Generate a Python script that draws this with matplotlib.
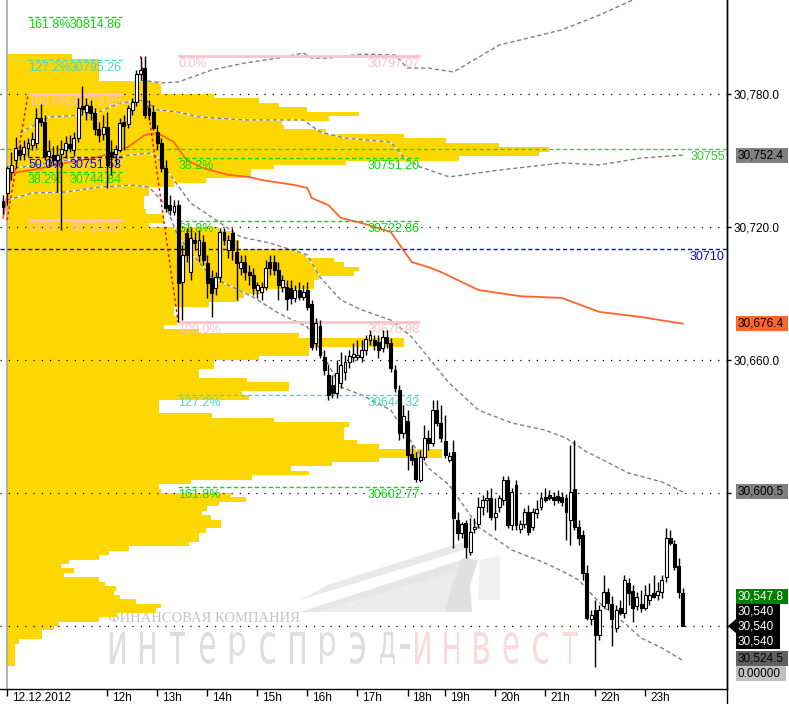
import numpy as np
import matplotlib
matplotlib.use("Agg")
import matplotlib.pyplot as plt
from matplotlib.patches import Rectangle, Polygon, PathPatch
from matplotlib.textpath import TextPath
from matplotlib.font_manager import FontProperties
from matplotlib.transforms import Affine2D, blended_transform_factory

# ---- candles (5 min bars, 12.12.2012) ----
opens = [
    30731.7, 30735.3, 30744.8, 30750.2, 30754.7, 30752.9, 30755.6, 30757.0, 30757.9, 30769.2,
    30767.4, 30752.0, 30752.5, 30750.2, 30752.9, 30754.7, 30757.4, 30754.7, 30760.1, 30774.6,
    30771.9, 30774.6, 30771.4, 30764.2, 30762.0, 30765.1, 30753.8, 30752.9, 30754.7, 30767.4,
    30766.5, 30772.8, 30776.4, 30789.0, 30791.7, 30773.7, 30771.9, 30762.9, 30757.9, 30746.6,
    30729.9, 30726.8, 30729.9, 30695.2, 30717.3, 30699.7, 30714.2, 30707.4, 30713.3, 30703.8,
    30697.0, 30692.5, 30697.4, 30717.7, 30709.6, 30717.3, 30708.7, 30701.5, 30704.2, 30699.7,
    30698.3, 30691.6, 30690.7, 30692.9, 30704.2, 30704.2, 30700.6, 30692.9, 30692.9, 30692.5,
    30688.0, 30691.6, 30688.4, 30691.6, 30685.3, 30667.7, 30675.3, 30661.4, 30653.2, 30648.7,
    30645.1, 30649.6, 30654.6, 30659.1, 30661.4, 30661.4, 30661.4, 30664.5, 30669.0, 30669.0,
    30668.1, 30665.4, 30670.4, 30667.7, 30655.5, 30646.5, 30627.1, 30632.5, 30617.6, 30615.8,
    30605.9, 30616.2, 30624.8, 30622.6, 30637.4, 30631.6, 30623.5, 30614.9, 30618.5, 30587.8,
    30582.0, 30586.5, 30573.4, 30583.8, 30586.0, 30593.7, 30596.9, 30597.7, 30589.2, 30593.7,
    30596.9, 30605.9, 30585.6, 30603.6, 30583.8, 30586.0, 30591.4, 30584.7, 30591.0, 30593.7,
    30598.2, 30599.1, 30598.2, 30598.6, 30598.2, 30597.7, 30587.8, 30601.8, 30584.7, 30581.1,
    30563.9, 30543.2, 30547.2, 30535.9, 30549.0, 30555.4, 30549.9, 30539.1, 30548.1, 30545.9,
    30559.4, 30555.8, 30549.0, 30549.9, 30548.1, 30551.8, 30554.9, 30554.0, 30555.4, 30562.1,
    30579.7, 30577.0, 30567.1, 30554.9,
]
highs = [
    30734.4, 30747.5, 30753.8, 30760.6, 30757.4, 30759.2, 30760.1, 30762.9, 30773.7, 30775.5,
    30770.5, 30759.2, 30756.5, 30757.0, 30759.2, 30761.1, 30761.5, 30762.9, 30778.2, 30783.6,
    30778.2, 30777.3, 30773.7, 30767.4, 30770.5, 30771.9, 30759.2, 30757.0, 30769.2, 30770.5,
    30775.0, 30778.2, 30790.8, 30796.7, 30797.1, 30777.3, 30775.0, 30766.0, 30760.1, 30750.2,
    30734.4, 30732.2, 30732.2, 30711.9, 30719.5, 30719.5, 30717.7, 30718.6, 30716.4, 30707.4,
    30700.6, 30699.7, 30719.5, 30719.5, 30716.4, 30719.5, 30714.2, 30707.4, 30707.4, 30702.9,
    30701.5, 30695.2, 30695.2, 30705.1, 30707.4, 30707.4, 30704.2, 30698.3, 30696.1, 30696.1,
    30693.8, 30695.2, 30693.8, 30695.2, 30687.1, 30679.0, 30678.0, 30664.5, 30657.8, 30653.2,
    30660.0, 30663.6, 30662.3, 30664.5, 30667.7, 30669.0, 30669.0, 30671.3, 30673.5, 30671.3,
    30671.3, 30673.5, 30673.5, 30669.9, 30657.8, 30648.7, 30639.7, 30637.4, 30621.7, 30618.5,
    30619.4, 30630.7, 30628.4, 30642.0, 30642.0, 30639.7, 30635.2, 30618.5, 30623.9, 30591.4,
    30587.0, 30587.8, 30588.7, 30588.7, 30598.2, 30599.1, 30601.4, 30602.3, 30597.7, 30599.1,
    30607.7, 30607.7, 30602.3, 30605.9, 30587.8, 30593.2, 30594.6, 30593.2, 30596.9, 30600.5,
    30602.3, 30601.4, 30600.5, 30601.4, 30600.5, 30599.6, 30621.7, 30623.9, 30587.8, 30583.3,
    30567.5, 30547.2, 30551.8, 30549.5, 30563.0, 30557.2, 30553.5, 30549.5, 30551.8, 30563.0,
    30561.6, 30558.5, 30555.4, 30556.3, 30558.5, 30559.4, 30563.0, 30559.9, 30563.0, 30584.2,
    30583.3, 30578.8, 30570.7, 30557.2,
]
lows = [
    30725.9, 30729.9, 30741.2, 30746.6, 30750.2, 30750.2, 30752.0, 30754.7, 30755.6, 30765.6,
    30750.2, 30747.5, 30748.0, 30735.8, 30718.6, 30751.1, 30753.8, 30752.0, 30758.3, 30770.5,
    30768.3, 30768.3, 30761.5, 30758.3, 30759.2, 30737.6, 30743.5, 30748.0, 30753.8, 30754.7,
    30764.7, 30770.5, 30774.6, 30786.3, 30769.2, 30768.3, 30763.8, 30754.7, 30744.8, 30726.8,
    30725.4, 30725.4, 30677.0, 30678.0, 30704.2, 30696.1, 30709.6, 30704.2, 30702.9, 30688.0,
    30679.4, 30689.3, 30695.2, 30711.9, 30706.0, 30705.1, 30687.1, 30698.3, 30696.1, 30693.8,
    30689.3, 30688.0, 30687.1, 30691.6, 30698.3, 30698.3, 30687.1, 30690.7, 30682.6, 30685.3,
    30686.2, 30687.1, 30687.1, 30682.6, 30664.5, 30664.5, 30660.9, 30653.2, 30642.0, 30642.9,
    30642.9, 30647.4, 30651.0, 30656.4, 30659.1, 30660.0, 30659.1, 30662.3, 30666.8, 30664.5,
    30660.9, 30663.6, 30665.4, 30654.6, 30645.6, 30623.9, 30624.8, 30610.4, 30612.6, 30605.0,
    30605.0, 30614.9, 30619.4, 30621.2, 30630.2, 30623.0, 30615.8, 30614.0, 30575.2, 30578.8,
    30579.7, 30570.7, 30572.0, 30582.0, 30584.3, 30590.1, 30591.4, 30587.8, 30583.3, 30591.4,
    30594.6, 30584.3, 30583.3, 30583.3, 30582.0, 30584.3, 30581.1, 30583.3, 30588.7, 30592.3,
    30595.9, 30596.9, 30594.6, 30595.5, 30594.1, 30578.8, 30576.5, 30583.3, 30576.5, 30560.8,
    30542.7, 30540.5, 30521.5, 30533.7, 30548.1, 30547.2, 30531.0, 30537.3, 30545.0, 30543.6,
    30549.5, 30541.8, 30547.2, 30546.3, 30547.2, 30549.5, 30552.6, 30551.8, 30552.6, 30559.9,
    30576.5, 30565.3, 30552.6, 30540.0,
]
closes = [
    30729.0, 30746.6, 30748.0, 30755.6, 30752.5, 30756.1, 30757.9, 30759.7, 30769.2, 30767.4,
    30752.0, 30754.3, 30750.2, 30752.5, 30755.2, 30757.9, 30755.6, 30760.1, 30773.7, 30773.2,
    30775.0, 30771.4, 30764.2, 30761.5, 30765.1, 30748.0, 30751.6, 30755.2, 30766.9, 30765.6,
    30773.7, 30776.4, 30789.0, 30790.8, 30770.5, 30770.5, 30764.7, 30757.9, 30746.6, 30728.6,
    30727.7, 30729.5, 30694.7, 30707.4, 30707.4, 30715.0, 30712.8, 30714.2, 30705.1, 30694.7,
    30690.2, 30697.4, 30717.7, 30714.2, 30714.2, 30709.6, 30703.8, 30704.2, 30699.7, 30698.3,
    30692.5, 30693.8, 30692.9, 30701.5, 30701.5, 30700.6, 30693.8, 30696.1, 30687.5, 30688.0,
    30691.6, 30688.4, 30690.7, 30683.9, 30665.9, 30676.7, 30662.3, 30655.5, 30644.2, 30645.1,
    30654.1, 30657.8, 30659.1, 30661.8, 30662.7, 30662.3, 30664.5, 30669.5, 30671.3, 30666.8,
    30664.5, 30670.4, 30667.7, 30656.4, 30647.4, 30627.1, 30634.7, 30617.1, 30614.9, 30606.3,
    30616.2, 30624.8, 30622.6, 30637.4, 30631.6, 30624.8, 30617.1, 30616.7, 30588.7, 30582.0,
    30586.0, 30575.6, 30582.4, 30584.7, 30593.7, 30596.9, 30597.7, 30589.2, 30591.0, 30597.7,
    30605.9, 30585.6, 30600.5, 30585.6, 30586.0, 30591.4, 30582.4, 30591.4, 30592.8, 30597.7,
    30596.9, 30597.7, 30596.9, 30596.9, 30595.9, 30591.4, 30600.5, 30584.7, 30579.7, 30563.9,
    30543.6, 30545.0, 30535.9, 30547.2, 30555.4, 30550.4, 30543.2, 30547.2, 30545.9, 30560.8,
    30554.9, 30548.1, 30553.1, 30548.1, 30554.0, 30554.0, 30553.1, 30555.8, 30560.8, 30579.7,
    30577.4, 30566.6, 30555.4, 30540.0,
]

# hour ticks (bar index of first bar of the hour)
tick_bars = [1, 25, 37, 49, 61, 73, 85, 97, 106, 118, 130, 142, 154]
tick_labels = ["12.12.2012", "12h", "13h", "14h", "15h", "16h", "17h", "18h",
               "19h", "20h", "21h", "22h", "23h"]
price_ticks = [30540, 30600, 30660, 30720, 30780]
hidden_ticks = [30540, 30600]   # labels covered by the price boxes

# ---- volume profile of the day (2-point bins, top to bottom) ----
profile_top = 30797
profile_step = 2
profile_vol = [
    65, 92, 92, 92, 92, 92, 154, 154, 154, 207,
    252, 272, 300, 352, 322, 275, 277, 319, 397, 439,
    492, 542, 532, 452, 339, 267, 244, 244, 199, 167,
    142, 142, 137, 137, 137, 139, 157, 157, 142, 212,
    224, 227, 232, 232, 292, 299, 327, 337, 352, 347,
    312, 307, 307, 257, 237, 232, 202, 167, 167, 170,
    170, 157, 192, 292, 397, 397, 302, 302, 252, 207,
    207, 192, 192, 240, 282, 282, 235, 242, 152, 152,
    152, 205, 267, 342, 337, 337, 337, 350, 372, 435,
    435, 372, 325, 284, 302, 245, 184, 152, 154, 224,
    239, 212, 200, 195, 204, 214, 214, 199, 192, 192,
    182, 122, 102, 92, 62, 54, 67, 57, 92, 98,
    109, 107, 113, 129, 154, 149, 110, 92, 52, 47,
    35, 35, 12, 8, 8, 8, 8, 8,
]

# ---- indicator lines (read at bar knots) ----
ma_bars = [0, 2, 7, 15, 23, 30, 34, 37, 41, 44, 48, 54, 59, 62, 70, 73, 74, 78, 81, 86,
           93, 96, 98, 102, 105, 114, 124, 134, 143, 153, 163]
ma_vals = [30724.1, 30744.4, 30745.7, 30748.9, 30751.6, 30756.1, 30761.5, 30762.4, 30758.3,
           30750.2, 30746.6, 30743.5, 30742.6, 30741.2, 30738.9, 30737.6, 30733.1, 30729.9,
           30724.1, 30721.8, 30717.7, 30709.6, 30704.2, 30701.9, 30699.7, 30691.6, 30688.8,
           30688.0, 30681.7, 30679.4, 30676.4]

band_a_bars = [33, 38, 42, 50, 58, 66, 72, 74, 78, 86, 94, 97, 102, 108, 119, 134, 143, 151, 158, 163]
band_a_vals = [30786.3, 30785.0, 30785.4, 30790.8, 30794.0, 30796.2, 30798.5, 30796.2, 30796.2,
               30798.0, 30797.6, 30791.7, 30791.7, 30789.9, 30802.1, 30808.9, 30815.6, 30822.4,
               30827.8, 30832.3]
band_b_bars = [4, 11, 19, 23, 28, 34, 37, 42, 47, 58, 72, 76, 82, 93, 96, 100, 107, 119, 134,
               143, 153, 163]
band_b_vals = [30762.4, 30769.6, 30770.5, 30771.9, 30775.9, 30777.3, 30772.8, 30771.9, 30769.6,
               30768.3, 30768.3, 30762.9, 30760.1, 30758.3, 30751.6, 30747.1, 30742.6, 30745.7,
               30748.9, 30748.0, 30751.1, 30752.4]
band_c_bars = [3, 11, 19, 27, 35, 37, 41, 45, 50, 57, 64, 73, 76, 81, 86, 93, 98, 105, 107,
               114, 122, 130, 135, 140, 143, 150, 158, 163]
band_c_vals = [30746.6, 30748.9, 30751.1, 30751.6, 30753.4, 30751.6, 30741.2, 30730.8, 30724.5,
               30715.5, 30712.8, 30707.4, 30697.4, 30687.1, 30682.6, 30678.0, 30670.4, 30654.1,
               30649.6, 30637.4, 30631.6, 30628.4, 30624.8, 30618.5, 30615.8, 30609.0, 30605.0,
               30600.5]
band_d_bars = [1, 7, 15, 23, 31, 35, 39, 42, 50, 60, 66, 73, 81, 86, 93, 102, 107, 114, 122,
               130, 135, 138, 144, 149, 153, 158, 163]
band_d_vals = [30732.2, 30735.3, 30735.8, 30738.0, 30738.9, 30738.0, 30729.9, 30715.5, 30697.4,
               30688.4, 30681.2, 30674.9, 30647.8, 30644.2, 30637.4, 30611.3, 30603.6, 30584.7,
               30574.3, 30568.4, 30563.9, 30560.8, 30548.6, 30541.4, 30534.6, 30530.1, 30524.5]

# ---- fibonacci sets ----
fib_a_span = (6, 28.5)
fib_a_pct = ["161.8%", "127.2%", "100.0%", "50.0%", "38.2%", "0.0%"]
fib_a_px = [30814.86, 30795.26, 30779.85, 30751.53, 30744.84, 30723.20]
fib_b_span = (42, 100)
fib_b_pct = ["0.0%", "38.2%", "61.8%", "100.0%", "127.2%", "161.8%"]
fib_b_px = [30797.07, 30751.20, 30722.86, 30676.98, 30644.32, 30602.77]
zigzag_1 = ([1, 6], [30723.20, 30779.85])
zigzag_2 = ([33, 42], [30797.07, 30676.98])

level_green = 30755
level_blue = 30710
last_price = 30540.0

GREEN = "#00DD00"
CYAN = "#40D8D0"
PINK = "#FFC0CB"
BLUE = "#0000FF"
fib_colors = {"161.8%": GREEN, "127.2%": CYAN, "100.0%": PINK, "61.8%": GREEN,
              "50.0%": BLUE, "38.2%": GREEN, "0.0%": PINK}

plt.rcParams["font.family"] = ["Liberation Sans", "DejaVu Sans"]

W, H = 789, 704
AX_W, AX_H = 727, 689
fig = plt.figure(figsize=(W / 100, H / 100), dpi=100)
ax = fig.add_axes([0, (H - AX_H) / H, AX_W / W, AX_H / H])
ax.set_xlim(-0.72, 173.6)
ax.set_ylim(30511.6, 30822.4)
ppx = (30822.4 - 30511.6) / AX_H  # price per pixel

for s in ["top", "left"]:
    ax.spines[s].set_visible(False)
ax.spines["bottom"].set_linewidth(1.0)
ax.spines["right"].set_linewidth(1.0)
fig.add_artist(plt.Line2D([AX_W / W, AX_W / W], [0, 1], color="black", lw=1.0))

# price axis on the right
ax.yaxis.tick_right()
ax.set_yticks(price_ticks)
ax.set_yticklabels(["" if p in hidden_ticks else "{:,.1f}".format(p) for p in price_ticks],
                   fontsize=8.5)
ax.tick_params(axis="y", direction="out", length=3, pad=1.5, width=1)
ax.set_xticks(tick_bars)
ax.set_xticklabels([])
ax.tick_params(axis="x", direction="out", length=5, width=1)
for b, lab in zip(tick_bars, tick_labels):
    ax.annotate(lab, xy=(b, 0), xycoords=("data", "axes fraction"), xytext=(3.5, -2),
                textcoords="offset points", ha="left", va="top", fontsize=8.5)

# dotted grid
for p in price_ticks:
    ax.axhline(p, color="black", lw=0.9, ls=(0, (1.0, 5.6)), zorder=1.5)

# day separator
ax.axvline(tick_bars[0], color="#A8A8A8", lw=1.2, zorder=1.4)

# volume profile
prof_price = profile_top - profile_step * np.arange(len(profile_vol))
ax.barh(prof_price, np.array(profile_vol) / 4.17, height=profile_step, left=tick_bars[0],
        color="#FFD700", lw=0, zorder=1)


def px2ax(x, y):
    return (x / AX_W, 1 - y / AX_H)


# watermark logo (light grey wing)
logo_parts = [
    ([(300, 612), (318, 612), (470, 568), (470, 557)], "#E6E6E6"),
    ([(300, 600), (470, 548), (470, 540), (330, 584)], "#E9E9E9"),
    ([(318, 612), (470, 612), (470, 568)], "#EBEBEB"),
    ([(445, 612), (472, 612), (470, 585), (478, 560), (462, 558), (452, 585)], "#E0E0E0"),
    ([(478, 600), (500, 600), (500, 556), (480, 560)], "#EFEFEF"),
]
for pts, col in logo_parts:
    ax.add_patch(Polygon([px2ax(*p) for p in pts], closed=True, transform=ax.transAxes,
                         fc=col, ec="none", zorder=0.6))
ax.text(*px2ax(108, 622), "ФИНАНСОВАЯ КОМПАНИЯ", transform=ax.transAxes,
        family=["Liberation Serif", "DejaVu Serif"], fontsize=10.5, color="#C4C4C4",
        ha="left", va="baseline", zorder=0.7)

wm_font = FontProperties(family="DejaVu Sans")


def glyph(ch, x_left, y_top, w, h, color):
    tp = TextPath((0, 0), ch, size=1, prop=wm_font)
    e = tp.get_extents()
    tr = (Affine2D().translate(-e.x0, -e.y0).scale(w / e.width / AX_W, h / e.height / AX_H)
          .translate(x_left / AX_W, 1 - (y_top + h) / AX_H) + ax.transAxes)
    ax.add_patch(PathPatch(tp, transform=tr, fc=color, ec="none", zorder=0.7))


for k, ch in enumerate("интерспрэд"):
    glyph(ch, 110 + 30.0 * k, 632, 15, 32, "#DEDEDE")
ax.add_patch(Rectangle(px2ax(400, 649), 10 / AX_W, 5 / AX_H, transform=ax.transAxes,
                       fc="#DEDEDE", ec="none", zorder=0.7))
for k, ch in enumerate("инвест"):
    glyph(ch, 415 + 29.5 * k, 632, 15, 32, "#FADADA")

# bands
for bx, by in [(band_a_bars, band_a_vals), (band_b_bars, band_b_vals),
               (band_c_bars, band_c_vals), (band_d_bars, band_d_vals)]:
    ax.plot(bx, by, color="white", lw=1.0, zorder=2)
    ax.plot(bx, by, color="#808080", lw=1.0, ls=(0, (3, 2)), zorder=2.1)

# moving average
ax.plot(ma_bars, ma_vals, color="#FF6428", lw=1.3, zorder=2.5)

# horizontal levels
ax.axhline(level_green, color="#33CC33", lw=1.0, ls=(0, (3, 2)), zorder=2.6)
ax.axhline(level_blue, color=BLUE, lw=1.0, ls=(0, (3, 2)), zorder=2.6)
for lvl, col in [(level_green, "#33CC33"), (level_blue, BLUE)]:
    ax.annotate(str(lvl), xy=(1, lvl), xycoords=("axes fraction", "data"), xytext=(-1.5, -1),
                textcoords="offset points", ha="right", va="top", fontsize=9, color=col,
                zorder=3)


# fibonacci
def draw_fib(span, pcts, prices):
    x0, x1 = span
    for pct, pr in zip(pcts, prices):
        col = fib_colors[pct]
        if col == PINK:
            ax.plot([x0, x1], [pr, pr], color=col, lw=2.0, zorder=3, solid_capstyle="butt")
        else:
            ax.plot([x0, x1], [pr, pr], color=col, lw=1.0, ls=(0, (3, 2)), zorder=3)
        ax.annotate(pct, xy=(x0, pr), xytext=(0, -1.5), textcoords="offset points",
                    ha="left", va="top", fontsize=9, color=col, zorder=3.1)
        ax.annotate("{:.2f}".format(pr), xy=(x1, pr), xytext=(0, -1.5),
                    textcoords="offset points", ha="right", va="top", fontsize=9,
                    color=col, zorder=3.1)


draw_fib(fib_a_span, fib_a_pct, fib_a_px)
draw_fib(fib_b_span, fib_b_pct, fib_b_px)
for zx, zy in [zigzag_1, zigzag_2]:
    ax.plot(zx, zy, color="#FF0000", lw=1.0, ls=(0, (2, 2)), zorder=3.2)

# candles
idx = np.arange(len(closes))
o = np.array(opens)
c = np.array(closes)
ax.vlines(idx, lows, highs, color="black", lw=1.0, zorder=4)
up = c >= o
body_lo = np.minimum(o, c)
body_h = np.maximum(np.abs(c - o), 0.35)
ax.bar(idx[up], body_h[up], bottom=body_lo[up], width=0.7, color="white",
       edgecolor="black", lw=0.8, zorder=4.1)
ax.bar(idx[~up], body_h[~up], bottom=body_lo[~up], width=0.7, color="black",
       edgecolor="black", lw=0.8, zorder=4.1)

# price boxes on the right
tr = blended_transform_factory(fig.transFigure, ax.transData)
bh = 15 * ppx
boxes = [
    (band_b_vals[-1], "30,752.4", "#808080", "black", 52),
    (ma_vals[-1], "30,676.4", "#FF6428", "black", 52),
    (band_c_vals[-1], "30,600.5", "#808080", "black", 52),
    (last_price + 2 * bh, "30,547.8", "#008000", "white", 52),
    (last_price + bh, "30,540", "black", "white", 44),
    (last_price, "30,540", "black", "white", 44),
    (last_price - bh, "30,540", "black", "white", 44),
    (band_d_vals[-1] + 0.15 * bh, "30,524.5", "#606060", "black", 52),
    (band_d_vals[-1] - 0.9 * bh, "0.00000", "#C0C0C0", "black", 50),
]
for yp, txt, fc, tc, wpx in boxes:
    fig.add_artist(Rectangle((736 / W, yp - bh / 2), wpx / W, bh, transform=tr, fc=fc,
                             ec="none", zorder=5, clip_on=False))
    fig.add_artist(plt.Text(738 / W, yp, txt, transform=tr, color=tc, fontsize=8.5,
                            ha="left", va="center", zorder=6))
fig.add_artist(Polygon([(728 / W, last_price), (736.5 / W, last_price + 7.5 * ppx),
                        (736.5 / W, last_price - 7.5 * ppx)], closed=True, transform=tr,
                       fc="black", ec="none", zorder=5))

fig.savefig("out.png", dpi=100, facecolor="white")
